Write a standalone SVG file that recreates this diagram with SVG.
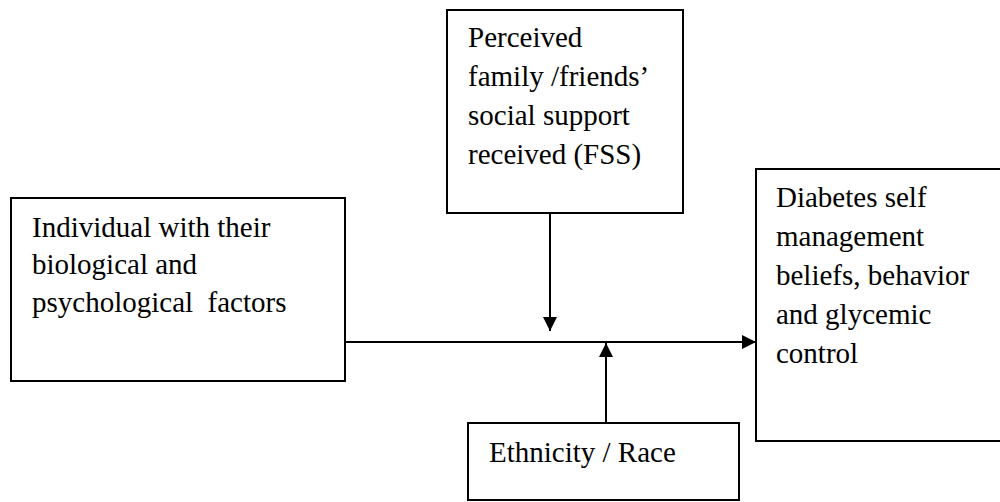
<svg xmlns="http://www.w3.org/2000/svg" width="1000" height="502" viewBox="0 0 1000 502">
<style>
.box{fill:#fff;stroke:#000;stroke-width:2}
.t{font-size:29px;fill:#000}
.c{stroke:#000;stroke-width:2;fill:none}
</style>
<defs>
<marker id="ah" markerWidth="14" markerHeight="14" refX="14" refY="7" orient="auto" markerUnits="userSpaceOnUse">
<path d="M0,0 L14,7 L0,14 Z" fill="#000"/>
</marker>
</defs>
<rect width="1000" height="502" fill="#fff"/>
<g font-family="'Liberation Serif', 'DejaVu Serif', serif">
<g id="node-fss">
<rect class="box" x="447" y="10" width="236" height="203"/>
<text class="t" x="468" y="47">Perceived</text>
<text class="t" x="468" y="86">family /friends’</text>
<text class="t" x="468" y="125">social support</text>
<text class="t" x="468" y="164">received (FSS)</text>
</g>
<g id="node-individual">
<rect class="box" x="11" y="198" width="334" height="183"/>
<text class="t" x="32" y="237">Individual with their</text>
<text class="t" x="32" y="274">biological and</text>
<text class="t" x="32" y="312" xml:space="preserve">psychological  factors</text>
</g>
<g id="node-diabetes">
<rect class="box" x="756" y="169" width="260" height="272"/>
<text class="t" x="776" y="207">Diabetes self</text>
<text class="t" x="776" y="246">management</text>
<text class="t" x="776" y="285">beliefs, behavior</text>
<text class="t" x="776" y="324">and glycemic</text>
<text class="t" x="776" y="363">control</text>
</g>
<g id="node-ethnicity">
<rect class="box" x="468" y="423" width="271" height="77"/>
<text class="t" x="489" y="462">Ethnicity / Race</text>
</g>
</g>
<g id="connectors">
<line class="c" x1="345" y1="342" x2="756" y2="342" marker-end="url(#ah)"/>
<line class="c" x1="550" y1="213" x2="550" y2="331" marker-end="url(#ah)"/>
<line class="c" x1="606" y1="423" x2="606" y2="343" marker-end="url(#ah)"/>
</g>
</svg>
